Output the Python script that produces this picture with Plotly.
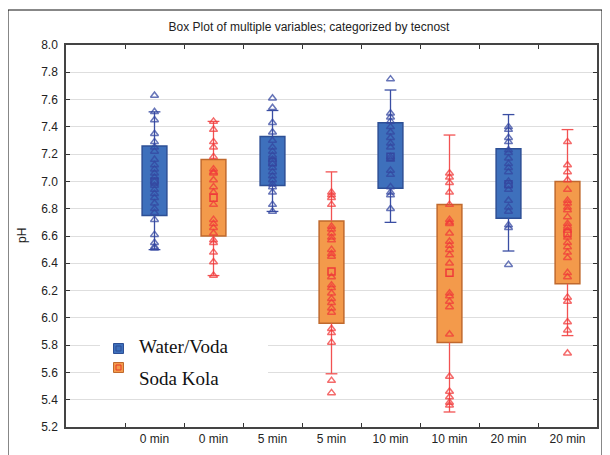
import plotly.graph_objects as go

# ---------------- data ----------------
tick_labels = ["0 min", "0 min", "5 min", "5 min", "10 min", "10 min", "20 min", "20 min"]
groups = ["Water/Voda", "Soda Kola", "Water/Voda", "Soda Kola",
          "Water/Voda", "Soda Kola", "Water/Voda", "Soda Kola"]

q3 = [7.26, 7.16, 7.33, 6.71, 7.43, 6.83, 7.24, 7.00]
q1 = [6.75, 6.60, 6.97, 5.96, 6.95, 5.82, 6.73, 6.25]
upper = [7.51, 7.44, 7.52, 7.07, 7.67, 7.34, 7.49, 7.38]
lower = [6.50, 6.31, 6.78, 5.59, 6.70, 5.31, 6.49, 5.87]
means = [7.00, 6.88, 7.14, 6.34, 7.18, 6.33, 6.98, 6.62]

water_0 = [7.63, 7.51, 7.45, 7.35, 7.29, 7.25, 7.22, 7.16, 7.12, 7.09, 7.06, 7.03, 7.00,
           6.97, 6.94, 6.91, 6.88, 6.84, 6.80, 6.77, 6.72, 6.61, 6.55, 6.52, 6.51]
soda_0 = [7.44, 7.38, 7.29, 7.25, 7.18, 7.09, 7.07, 7.06, 7.01, 6.96, 6.92, 6.83, 6.72,
          6.69, 6.66, 6.62, 6.57, 6.55, 6.48, 6.41, 6.31]
water_5 = [7.61, 7.54, 7.43, 7.36, 7.30, 7.25, 7.22, 7.19, 7.16, 7.13, 7.10, 7.07, 7.04,
           7.01, 6.98, 6.96, 6.92, 6.83, 6.78]
soda_5 = [6.92, 6.90, 6.88, 6.83, 6.67, 6.65, 6.62, 6.59, 6.57, 6.50, 6.47, 6.45, 6.30,
          6.24, 6.22, 6.18, 6.14, 6.11, 6.07, 6.04, 5.92, 5.89, 5.82, 5.54, 5.45]
water_10 = [7.75, 7.50, 7.47, 7.44, 7.40, 7.36, 7.32, 7.28, 7.25, 7.18, 7.16, 7.08, 7.05,
            6.96, 6.92, 6.90, 6.80]
soda_10 = [7.06, 7.03, 6.99, 6.92, 6.83, 6.72, 6.70, 6.69, 6.62, 6.56, 6.53, 6.50, 6.46,
           6.40, 6.18, 6.16, 6.12, 6.08, 5.88, 5.57, 5.46, 5.42, 5.38, 5.36]
water_20 = [7.40, 7.38, 7.32, 7.29, 7.23, 7.21, 7.17, 7.13, 7.10, 7.07, 7.00, 6.97, 6.94,
            6.86, 6.81, 6.78, 6.68, 6.66, 6.39]
soda_20 = [7.29, 7.12, 7.07, 7.01, 6.94, 6.86, 6.84, 6.81, 6.79, 6.74, 6.69, 6.67, 6.64,
           6.59, 6.55, 6.52, 6.48, 6.44, 6.33, 6.30, 6.15, 6.12, 5.97, 5.91, 5.74]
points = [water_0, soda_0, water_5, soda_5, water_10, soda_10, water_20, soda_20]

# ---------------- styles ----------------
OFF = 8                       # page body margin
W, H = 610 - OFF, 455 - OFF
PL, PR, PT, PB = 66, 597, 45, 427          # plot area in page pixels
ML, MR, MT, MB = PL - OFF, W - (PR - OFF), PT - OFF, H - (PB - OFF)
PW, PH = PR - PL, PB - PT

style = {
    "Water/Voda": dict(fill="#3e70bc", border="#2d4f95", whisk="#3a4ea3", pt="#3447a0"),
    "Soda Kola": dict(fill="#f39a4b", border="#c0692d", whisk="#f25252", pt="#f03a3a"),
}
pos = [i + 1.5 for i in range(len(tick_labels))]
BOXW = 0.42
CAP = 0.2

def xp(px):
    return (px - PL) / PW

def yp(py):
    return (PB - py) / PH

fig = go.Figure()

for g in ["Water/Voda", "Soda Kola"]:
    idx = [i for i, gg in enumerate(groups) if gg == g]
    s = style[g]
    fig.add_trace(go.Bar(
        x=[pos[i] for i in idx], base=[q1[i] for i in idx],
        y=[q3[i] - q1[i] for i in idx], width=BOXW,
        marker=dict(color=s["fill"], line=dict(color=s["border"], width=1.5)),
        showlegend=False, hoverinfo="skip"))

for i, g in enumerate(groups):
    s = style[g]
    c = pos[i]
    xs = [c, c, None, c - CAP / 2, c + CAP / 2, None, c, c, None, c - CAP / 2, c + CAP / 2]
    ys = [q3[i], upper[i], None, upper[i], upper[i], None, q1[i], lower[i], None, lower[i], lower[i]]
    fig.add_trace(go.Scatter(x=xs, y=ys, mode="lines",
                             line=dict(color=s["whisk"], width=1.3),
                             showlegend=False, hoverinfo="skip"))
    fig.add_trace(go.Scatter(
        x=[c] * len(points[i]), y=points[i], mode="markers",
        marker=dict(symbol="triangle-up-open", size=7, color=s["pt"],
                    opacity=0.75, line=dict(width=1.5)),
        showlegend=False))
    fig.add_trace(go.Scatter(
        x=[c], y=[means[i]], mode="markers",
        marker=dict(symbol="square-open", size=7, color=s["pt"], line=dict(width=1.5)),
        showlegend=False))

shapes = []
# outer frame
shapes.append(dict(type="rect", xref="paper", yref="paper",
                   x0=xp(8), x1=xp(602), y0=yp(475), y1=yp(10),
                   line=dict(color="#111", width=1), fillcolor="rgba(0,0,0,0)"))
# legend background
shapes.append(dict(type="rect", xref="paper", yref="paper",
                   x0=xp(100), x1=xp(268), y0=yp(392), y1=yp(334),
                   line=dict(width=0), fillcolor="white", layer="above"))
# legend symbols
leg = [("Water/Voda", 348.5, 346), ("Soda Kola", 367.5, 378)]
annotations = []
for name, sy, ty in leg:
    s = style[name]
    inner = "#2d4f95" if name == "Water/Voda" else "#e8382a"
    shapes.append(dict(type="rect", xref="paper", yref="paper",
                       x0=xp(113.5), x1=xp(123.5), y0=yp(sy + 5), y1=yp(sy - 5),
                       line=dict(color=s["border"], width=1), fillcolor=s["fill"], layer="above"))
    shapes.append(dict(type="rect", xref="paper", yref="paper",
                       x0=xp(116), x1=xp(121), y0=yp(sy + 2.5), y1=yp(sy - 2.5),
                       line=dict(color=inner, width=1), fillcolor=s["fill"], layer="above"))
    annotations.append(dict(text=name, xref="paper", yref="paper", x=xp(137), y=yp(ty),
                            xanchor="left", yanchor="middle", showarrow=False,
                            font=dict(family="Liberation Serif, Times New Roman, serif",
                                      size=19, color="#111")))

annotations.append(dict(text="pH", xref="paper", yref="paper", x=xp(22), y=0.5,
                        textangle=-90, showarrow=False, xanchor="center", yanchor="middle",
                        font=dict(family="Liberation Sans, Arial, sans-serif", size=12, color="#222")))

fig.update_layout(
    width=W, height=H,
    margin=dict(l=ML, r=MR, t=MT, b=MB, autoexpand=False),
    paper_bgcolor="white", plot_bgcolor="white",
    title=dict(text="Box Plot of multiple variables; categorized by tecnost",
               x=(309 - OFF) / W, xref="container", xanchor="center",
               y=1 - (27 - OFF) / H, yref="container", yanchor="middle",
               font=dict(family="Liberation Sans, Arial, sans-serif", size=12, color="#222")),
    font=dict(family="Liberation Sans, Arial, sans-serif", size=12, color="#222"),
    showlegend=False,
    barmode="overlay",
    shapes=shapes,
    annotations=annotations,
)

fig.update_xaxes(
    range=[0, len(tick_labels) + 1], tickmode="array", tickvals=pos, ticktext=tick_labels,
    ticks="", showgrid=False, zeroline=False, automargin=False,
    showline=True, linecolor="#444", linewidth=1.5, mirror="allticks",
    minor=dict(tickmode="array", tickvals=list(range(1, len(tick_labels) + 1)),
               ticks="inside", ticklen=4, tickcolor="#333", tickwidth=1, showgrid=False),
    tickfont=dict(size=12, color="#222"),
)
fig.update_yaxes(
    range=[5.2, 8.0], dtick=0.2, tick0=5.2, tickformat=".1f", automargin=False,
    showgrid=True, gridcolor="#dedede", gridwidth=1, zeroline=False,
    showline=True, linecolor="#444", linewidth=1.5, mirror="allticks",
    ticks="inside", ticklen=4, tickcolor="#333",
    ticklabelstandoff=4,
    tickfont=dict(size=12, color="#222"),
)

fig.write_html("out.html")
